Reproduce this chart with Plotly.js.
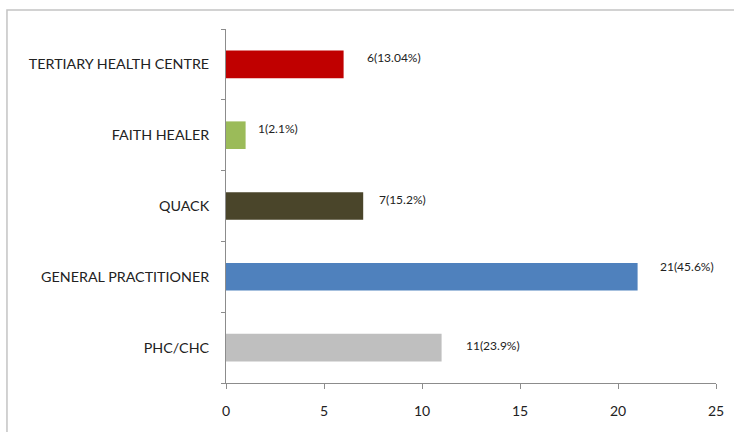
<!DOCTYPE html>
<html>
<head>
<meta charset="utf-8">
<script src="https://cdn.plot.ly/plotly-3.0.1.min.js"></script>
<style>html,body{margin:0;padding:0;background:#fff;}#chart{width:734px;height:432px;}</style>
</head>
<body>
<div id="chart"></div>
<script>
// Data (bottom to top)
const categories = ["PHC/CHC", "GENERAL PRACTITIONER", "QUACK", "FAITH HEALER", "TERTIARY HEALTH CENTRE"];
const counts = [11, 21, 7, 1, 6];
const labels = ["11(23.9%)", "21(45.6%)", "7(15.2%)", "1(2.1%)", "6(13.04%)"];
const barColors = ["#BFBFBF", "#4F81BD", "#4A452A", "#9BBB59", "#C00000"];

// label placement tweaks (pixels)
const labelDx = [22, 20, 14, 10, 21];
const labelDy = [2, 10, 7, 7, 7];

const font = "Lato, 'Open Sans', sans-serif";

const trace = {
  type: "bar",
  orientation: "h",
  y: categories,
  x: counts,
  width: 0.39,
  marker: {color: barColors},
  hoverinfo: "none"
};

const annotations = categories.map((c, i) => ({
  x: counts[i], y: c, xref: "x", yref: "y",
  text: labels[i], showarrow: false,
  xanchor: "left", yanchor: "middle",
  xshift: labelDx[i], yshift: labelDy[i],
  font: {family: font, size: 12, color: "#222"}
}));

const layout = {
  width: 734, height: 432,
  margin: {l: 226, r: 18, t: 29, b: 49},
  paper_bgcolor: "#fff", plot_bgcolor: "#fff",
  showlegend: false,
  bargap: 0.6,
  xaxis: {
    range: [0, 25], dtick: 5, tick0: 0,
    showgrid: false, zeroline: false,
    showline: true, linecolor: "#8c8c8c", linewidth: 1,
    ticks: "outside", ticklen: 5, tickcolor: "#8c8c8c",
    ticklabelstandoff: 10,
    tickfont: {family: font, size: 14, color: "#222"},
    fixedrange: true
  },
  yaxis: {
    type: "category",
    categoryorder: "array", categoryarray: categories,
    range: [-0.5, 4.5],
    showgrid: false, zeroline: false,
    showline: true, linecolor: "#8c8c8c", linewidth: 1,
    ticks: "outside", ticklen: 4, tickcolor: "#8c8c8c",
    tickson: "boundaries",
    ticklabelstandoff: 13,
    tickfont: {family: font, size: 14.3, color: "#222"},
    fixedrange: true
  },
  annotations: annotations,
  shapes: [{
    type: "rect", xref: "paper", yref: "paper",
    x0: -0.447, x1: 1.06, y0: -0.17, y1: 1.054,
    line: {color: "#c4c4c4", width: 1.5},
    fillcolor: "rgba(0,0,0,0)", layer: "below"
  }]
};

Plotly.newPlot("chart", [trace], layout, {displayModeBar: false, staticPlot: true});
</script>
</body>
</html>
